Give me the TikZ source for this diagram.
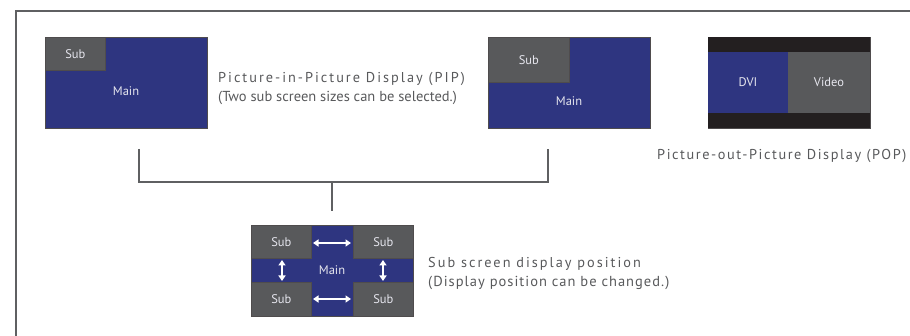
\documentclass[tikz,border=0pt]{standalone}
\usepackage{fontspec}
\setmainfont{PT Sans}
\newfontfamily\spacedA[LetterSpace=11]{PT Sans}
\newfontfamily\spacedP[LetterSpace=14]{PT Sans}
\newfontfamily\spacedB[LetterSpace=14]{PT Sans}
\newfontfamily\spacedN[LetterSpace=7]{PT Sans}
\usetikzlibrary{arrows.meta}
\definecolor{navy}{HTML}{2E3580}
\definecolor{subgray}{HTML}{58595B}
\definecolor{barblack}{HTML}{231F20}
\definecolor{linegray}{HTML}{5F6062}
\definecolor{txtgray}{HTML}{58595B}
\definecolor{lbl}{HTML}{E6E6EE}
\tikzset{
  mainbox/.style={draw=barblack!80, line width=0.7pt, fill=navy, inner sep=0pt, anchor=north west},
  subbox/.style={draw=barblack!80, line width=0.7pt, fill=subgray, inner sep=0pt, anchor=north west, text=lbl, font=\fontsize{12.5}{14}\selectfont},
  barbox/.style={fill=barblack, inner sep=0pt, anchor=north west},
  lab/.style={text=lbl, font=\fontsize{12.5}{14}\selectfont, inner sep=0pt},
  title/.style={text=txtgray, font=\spacedA\fontsize{14.3}{17}\selectfont, inner sep=0pt, anchor=west},
  note/.style={text=txtgray, font=\fontsize{14.5}{17}\selectfont, inner sep=0pt, anchor=west},
  conn/.style={draw=linegray, line width=1.1pt},
  frameline/.style={draw=linegray, line width=1.1pt},
  wa/.style={draw=white, line width=1.9pt, {Triangle[length=5.5pt,width=7pt]}-{Triangle[length=5.5pt,width=7pt]}}
}
\begin{document}
\begin{tikzpicture}[x=1pt,y=-1pt]
\useasboundingbox (0,0) rectangle (910,336);
% frame
\coordinate (ftr) at (910,11);
\coordinate (ftl) at (16,11);
\coordinate (fbl) at (16,336);
\draw[frameline] (ftr) -- (ftl) -- (fbl);

% PIP 1
\node[mainbox, minimum width=162pt, minimum height=91pt] (pip1) at (45,37) {};
\node[subbox, minimum width=60pt, minimum height=33pt] (pip1sub) at (45,37) {Sub};
\node[lab] (pip1main) at (126,91) {Main};

% PIP text
\node[title, font=\spacedP\fontsize{14.3}{17}\selectfont] (piptitle) at (218,79) {Picture-in-Picture Display (PIP)};
\node[note] (pipnote) at (218,98) {(Two sub screen sizes can be selected.)};

% PIP 2
\node[mainbox, minimum width=162pt, minimum height=91pt] (pip2) at (488,37) {};
\node[subbox, minimum width=81pt, minimum height=45pt] (pip2sub) at (488,37) {Sub};
\node[lab] (pip2main) at (569,101) {Main};

% POP
\node[fill=subgray, draw=barblack!80, line width=0.7pt, inner sep=0pt, anchor=north west, minimum width=162pt, minimum height=91pt] (pop) at (708,37) {};
\node[barbox, minimum width=162pt, minimum height=15pt] (poptop) at (708,37) {};
\node[barbox, minimum width=162pt, minimum height=15pt] (popbot) at (708,113) {};
\node[fill=navy, inner sep=0pt, anchor=north west, minimum width=80pt, minimum height=61pt] (popdvi) at (708,52) {};
\node[lab] (dvi) at (748,82) {DVI};
\node[lab] (video) at (829,82) {Video};
\node[title] (poptitle) at (657,156) {Picture-out-Picture Display (POP)};

% connectors
\coordinate (c1) at (139,149);
\coordinate (c2) at (548,149);
\coordinate (c1b) at (139,182);
\coordinate (c2b) at (548,182);
\coordinate (cm) at (332,182);
\coordinate (cd) at (332,211);
\draw[conn] (c1) -- (c1b) -- (c2b) -- (c2);
\draw[conn] (cm) -- (cd);

% sub screen position
\node[mainbox, minimum width=162pt, minimum height=91pt] (pos) at (251,225) {};
\node[subbox, minimum width=60pt, minimum height=33pt] (s1) at (251,225) {Sub};
\node[subbox, minimum width=60pt, minimum height=33pt] (s2) at (353,225) {Sub};
\node[subbox, minimum width=60pt, minimum height=34pt] (s3) at (251,282) {Sub};
\node[subbox, minimum width=60pt, minimum height=34pt] (s4) at (353,282) {Sub};
\node[lab] (posmain) at (332,270) {Main};
\draw[wa] (313,243) -- (351,243);
\draw[wa] (313,299) -- (351,299);
\draw[wa] (282,260) -- (282,281);
\draw[wa] (383,260) -- (383,281);

\node[title, font=\spacedB\fontsize{14.3}{17}\selectfont] (postitle) at (428,264) {Sub screen display position};
\node[note, font=\spacedN\fontsize{14.5}{17}\selectfont] (posnote) at (428,283) {(Display position can be changed.)};
\end{tikzpicture}
\end{document}
